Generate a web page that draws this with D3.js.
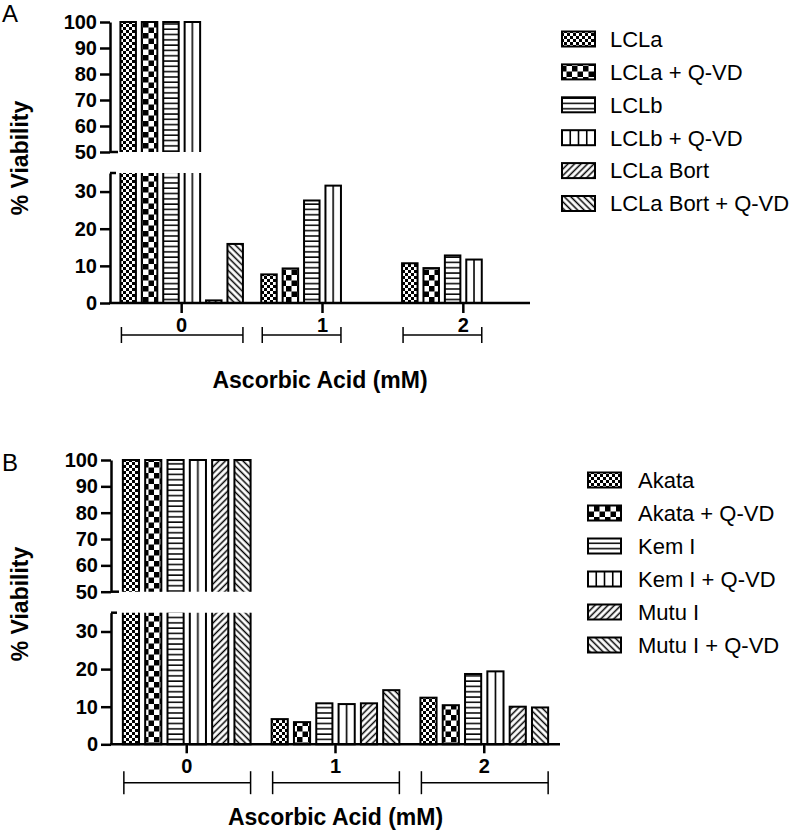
<!DOCTYPE html>
<html><head><meta charset="utf-8">
<script src="https://cdn.jsdelivr.net/npm/d3@7"></script>
<style>body{margin:0;background:#fff}svg{display:block}</style>
</head><body>
<script>
// ---------- data ----------
const categoriesA = ["0", "1", "2"];
const seriesA = ["LCLa", "LCLa + Q-VD", "LCLb", "LCLb + Q-VD", "LCLa Bort", "LCLa Bort + Q-VD"];
const valuesA = [
  [100, 7.7, 10.7],
  [100, 9.3, 9.4],
  [100, 27.6, 12.8],
  [100, 31.6, 11.7],
  [0.7, null, null],
  [15.9, null, null]
];
const categoriesB = ["0", "1", "2"];
const seriesB = ["Akata", "Akata + Q-VD", "Kem I", "Kem I + Q-VD", "Mutu I", "Mutu I + Q-VD"];
const valuesB = [
  [100, 6.7, 12.4],
  [100, 5.9, 10.4],
  [100, 10.9, 18.7],
  [100, 10.7, 19.4],
  [100, 10.9, 10.0],
  [100, 14.4, 9.8]
];
const upperTicks = [50, 60, 70, 80, 90, 100];
const lowerTicks = [0, 10, 20, 30];
const xTitle = "Ascorbic Acid (mM)";
const yTitle = "% Viability";

// ---------- svg + patterns ----------
const svg = d3.select("body").append("svg").attr("width", 800).attr("height", 831);
const defs = svg.append("defs");
function pat(id, w, h, extra) {
  const p = defs.append("pattern").attr("id", id).attr("patternUnits", "userSpaceOnUse")
    .attr("width", w).attr("height", h);
  if (extra) extra(p);
  p.append("rect").attr("width", w).attr("height", h).attr("fill", "#fff");
  return p;
}
let p;
p = pat("fine", 6, 6);
p.append("rect").attr("width", 3).attr("height", 3).attr("fill", "#000");
p.append("rect").attr("x", 3).attr("y", 3).attr("width", 3).attr("height", 3).attr("fill", "#000");
p = pat("check", 11, 11);
p.append("rect").attr("width", 5.5).attr("height", 5.5).attr("fill", "#000");
p.append("rect").attr("x", 5.5).attr("y", 5.5).attr("width", 5.5).attr("height", 5.5).attr("fill", "#000");
p = pat("hline", 6, 5.3);
p.append("rect").attr("x", 0).attr("y", 2).attr("width", 6).attr("height", 1.5).attr("fill", "#000");
p = pat("diagUp", 4.6, 4.6, q => q.attr("patternTransform", "rotate(45)"));
p.append("rect").attr("x", 1.55).attr("y", 0).attr("width", 1.5).attr("height", 4.6).attr("fill", "#000");
p = pat("diagDown", 4.6, 4.6, q => q.attr("patternTransform", "rotate(-45)"));
p.append("rect").attr("x", 1.55).attr("y", 0).attr("width", 1.5).attr("height", 4.6).attr("fill", "#000");
// vertical lines: bar (one centre line) and legend (three lines)
p = defs.append("pattern").attr("id", "vlineBar").attr("patternUnits", "objectBoundingBox")
  .attr("patternContentUnits", "objectBoundingBox").attr("width", 1).attr("height", 1);
p.append("rect").attr("width", 1).attr("height", 1).attr("fill", "#fff");
p.append("rect").attr("x", 0.45).attr("width", 0.1).attr("height", 1).attr("fill", "#000");
p = defs.append("pattern").attr("id", "vlineLeg").attr("patternUnits", "objectBoundingBox")
  .attr("patternContentUnits", "objectBoundingBox").attr("width", 1).attr("height", 1);
p.append("rect").attr("width", 1).attr("height", 1).attr("fill", "#fff");
[0.25, 0.5, 0.75].forEach(f => p.append("rect").attr("x", f - 0.024).attr("width", 0.048).attr("height", 1).attr("fill", "#000"));

const barFill = ["url(#fine)", "url(#check)", "url(#hline)", "url(#vlineBar)", "url(#diagUp)", "url(#diagDown)"];
const legFill = ["url(#fine)", "url(#check)", "url(#hline)", "url(#vlineLeg)", "url(#diagUp)", "url(#diagDown)"];

const FONT = "'Liberation Sans', Arial, Helvetica, sans-serif";

const panelA = {id: "A", axisX: 110, xEnd: 535, lineEnd: 530, y100: 22, y50: 152, y35: 173, y0: 303,
  gi: 0.088, go: 0.053, tick: 10, lblPad: 5, bracketY: 335, bracketH: 8, letterY: 22,
  ytitleY: 158, xtitleY: 388, legX: 562, legTextX: 610, legY0: 39, legStep: 32.9};
const panelB = {id: "B", axisX: 111, xEnd: 560, lineEnd: 560, y100: 460, y50: 591.7, y35: 612.7, y0: 744.3,
  gi: 0.1, go: 0.059, tick: 9, lblPad: 6, bracketY: 782.7, bracketH: 11.5, letterY: 471,
  ytitleY: 604, xtitleY: 825, legX: 588, legTextX: 638, legY0: 480, legStep: 33};

function drawPanel(c, cats, series, vals) {
  const g = svg.append("g");
  const x = d3.scaleBand().domain(cats).range([c.axisX, c.xEnd]).paddingInner(c.gi).paddingOuter(c.go);
  const xs = d3.scaleBand().domain(series).range([0, x.bandwidth()]).paddingInner(0.276).paddingOuter(0.138);
  const yU = d3.scaleLinear().domain([50, 100]).range([c.y50, c.y100]);
  const yL = d3.scaleLinear().domain([0, 35]).range([c.y0, c.y35]);

  defs.append("clipPath").attr("id", "cu" + c.id).append("rect")
    .attr("x", 0).attr("y", c.y100 - 10).attr("width", 800).attr("height", c.y50 - c.y100 + 10);
  defs.append("clipPath").attr("id", "cl" + c.id).append("rect")
    .attr("x", 0).attr("y", c.y35).attr("width", 800).attr("height", c.y0 - c.y35 + 10);

  const flat = [];
  series.forEach((s, i) => cats.forEach((cat, j) => {
    const v = vals[i][j];
    if (v != null) flat.push({s, i, cat, v});
  }));

  g.append("g").attr("clip-path", `url(#cu${c.id})`).selectAll("rect")
    .data(flat.filter(d => d.v > 50)).join("rect")
    .attr("x", d => x(d.cat) + xs(d.s)).attr("width", xs.bandwidth())
    .attr("y", d => yU(Math.min(d.v, 100)))
    .attr("height", d => c.y50 + 6 - yU(Math.min(d.v, 100)))
    .attr("fill", d => barFill[d.i]).attr("stroke", "#000").attr("stroke-width", 2);

  g.append("g").attr("clip-path", `url(#cl${c.id})`).selectAll("rect")
    .data(flat).join("rect")
    .attr("x", d => x(d.cat) + xs(d.s)).attr("width", xs.bandwidth())
    .attr("y", d => d.v > 35 ? c.y35 - 6 : yL(d.v))
    .attr("height", d => c.y0 - (d.v > 35 ? c.y35 - 6 : yL(d.v)))
    .attr("fill", d => barFill[d.i]).attr("stroke", "#000").attr("stroke-width", 2);

  function styleAxis(a) {
    a.selectAll("path,line").attr("stroke", "#000").attr("stroke-width", 2.5);
    a.selectAll("text").attr("font-family", FONT).attr("font-size", 20).attr("font-weight", "bold").attr("fill", "#000");
  }
  const au = g.append("g").attr("transform", `translate(${c.axisX},0)`)
    .call(d3.axisLeft(yU).tickValues(upperTicks).tickSize(10).tickPadding(3).tickSizeOuter(0));
  styleAxis(au);
  const al = g.append("g").attr("transform", `translate(${c.axisX},0)`)
    .call(d3.axisLeft(yL).tickValues(lowerTicks).tickSize(10).tickPadding(3).tickSizeOuter(0));
  styleAxis(al);
  // break stubs
  g.append("line").attr("x1", c.axisX).attr("x2", c.axisX + 8).attr("y1", c.y50).attr("y2", c.y50)
    .attr("stroke", "#000").attr("stroke-width", 2.5);
  g.append("line").attr("x1", c.axisX).attr("x2", c.axisX + 6).attr("y1", c.y35).attr("y2", c.y35)
    .attr("stroke", "#000").attr("stroke-width", 2.5);

  const ax = g.append("g").attr("transform", `translate(0,${c.y0})`)
    .call(d3.axisBottom(x).tickSize(c.tick).tickPadding(c.lblPad).tickSizeOuter(0));
  ax.select(".domain").remove();
  styleAxis(ax);
  g.append("line").attr("x1", c.axisX - 1).attr("x2", c.lineEnd).attr("y1", c.y0).attr("y2", c.y0)
    .attr("stroke", "#000").attr("stroke-width", 2.5);

  // group brackets
  cats.forEach((cat, j) => {
    const present = series.map((s, i) => i).filter(i => vals[i][j] != null);
    const x1 = x(cat) + xs(series[present[0]]) + 1;
    const x2 = x(cat) + xs(series[present[present.length - 1]]) + xs.bandwidth();
    const b = g.append("g").attr("stroke", "#000").attr("stroke-width", 1.5);
    b.append("line").attr("x1", x1).attr("x2", x2).attr("y1", c.bracketY).attr("y2", c.bracketY);
    [x1, x2].forEach(xx => b.append("line").attr("x1", xx).attr("x2", xx)
      .attr("y1", c.bracketY - c.bracketH).attr("y2", c.bracketY + c.bracketH));
  });

  // titles
  g.append("text").attr("x", 2).attr("y", c.letterY).text(c.id)
    .attr("font-family", FONT).attr("font-size", 24).attr("fill", "#000");
  g.append("text").attr("transform", `translate(28,${c.ytitleY}) rotate(-90)`).attr("text-anchor", "middle")
    .text(yTitle).attr("font-family", FONT).attr("font-size", 23).attr("font-weight", "bold");
  g.append("text").attr("x", (c.axisX + c.lineEnd) / 2).attr("y", c.xtitleY).attr("text-anchor", "middle")
    .text(xTitle).attr("font-family", FONT).attr("font-size", 23).attr("font-weight", "bold");

  // legend
  const lg = g.append("g");
  series.forEach((s, i) => {
    const cy = c.legY0 + i * c.legStep;
    lg.append("rect").attr("x", c.legX).attr("y", cy - 7.5).attr("width", 33).attr("height", 15)
      .attr("fill", legFill[i]).attr("stroke", "#000").attr("stroke-width", 2);
    lg.append("text").attr("x", c.legTextX).attr("y", cy + 7.8).text(s)
      .attr("font-family", FONT).attr("font-size", 22).attr("fill", "#000");
  });
}

drawPanel(panelA, categoriesA, seriesA, valuesA);
drawPanel(panelB, categoriesB, seriesB, valuesB);
</script>
</body></html>
